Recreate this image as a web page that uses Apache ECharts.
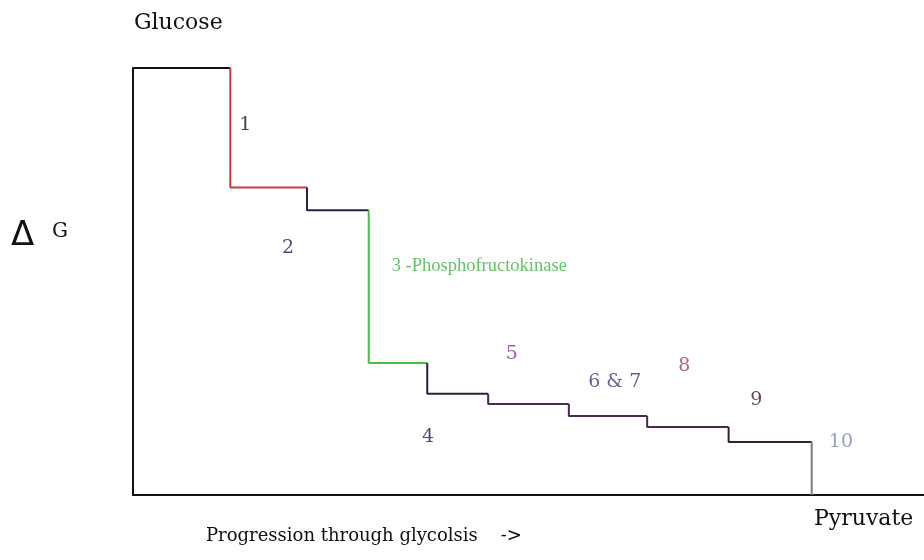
<!DOCTYPE html>
<html>
<head>
<meta charset="utf-8">
<script src="https://cdn.jsdelivr.net/npm/echarts@6/dist/echarts.min.js"></script>
<style>
  html, body { margin: 0; padding: 0; background: #fff; }
  #chart { width: 924px; height: 560px; }
</style>
</head>
<body>
<div id="chart"></div>
<script>
// x position where each step drops (progression units, 0-100)
const stepX = [0, 12.3, 22.0, 29.8, 37.2, 44.9, 55.1, 65.0, 75.3, 85.8]
// free energy level after each step (arbitrary units, 0-100)
const levels = [100, 72, 66.7, 30.9, 23.7, 21.3, 18.5, 15.9, 12.4, 0]
const stepColors = ['#111111', '#c83c3c', '#22224e', '#46c046', '#22223a', '#4a2a52', '#4a2a52', '#4a2a52', '#3a2222', '#7a7a8a']

// step labels
const labelText = ['1', '2', '3 -Phosphofructokinase', '5', '6 & 7', '8', '4', '9', '10']
const labelX = [14.2, 19.6, 32.7, 47.9, 60.9, 69.7, 37.3, 78.8, 89.5]
const labelY = [86.7, 57.8, 53.6, 33.0, 26.5, 30.2, 13.6, 22.2, 12.4]
const labelColors = ['#111111', '#1e1e56', '#3cb43c', '#86368a', '#4e3472', '#a03c6a', '#1e1e56', '#3a1c1c', '#8088aa']
const labelAlign = ['center', 'center', 'left', 'center', 'center', 'center', 'center', 'center', 'center']

const serif = '"DejaVu Serif", "Liberation Serif", serif'
const narrowSerif = '"Liberation Serif", serif'

// each segment: vertical drop at stepX[i], then flat until next drop
const segments = []
segments.push([[stepX[0], levels[0]], [stepX[1], levels[0]]])
for (let i = 1; i < stepX.length; i++) {
  const pts = [[stepX[i], levels[i - 1]], [stepX[i], levels[i]]]
  if (i + 1 < stepX.length) pts.push([stepX[i + 1], levels[i]])
  segments.push(pts)
}

const chart = echarts.init(document.getElementById('chart'))

const series = segments.map((pts, i) => ({
  type: 'line',
  data: pts,
  symbol: 'none',
  animation: false,
  lineStyle: { width: 2, color: stepColors[i] }
}))

series.push({
  type: 'scatter',
  symbolSize: 0,
  animation: false,
  data: labelText.map((t, i) => ({
    value: [labelX[i], labelY[i]],
    label: {
      show: true,
      position: 'inside',
      formatter: t,
      color: labelColors[i],
      align: labelAlign[i],
      fontFamily: t.length > 6 ? narrowSerif : serif,
      fontSize: t.length > 6 ? 18.5 : 19
    }
  }))
})

chart.setOption({
  backgroundColor: '#fff',
  grid: { left: 133, right: 0, top: 68, bottom: 65 },
  xAxis: {
    type: 'value', min: 0, max: 100,
    axisLine: { lineStyle: { color: '#111', width: 2 } },
    axisTick: { show: false }, axisLabel: { show: false }, splitLine: { show: false }
  },
  yAxis: {
    type: 'value', min: 0, max: 100,
    axisLine: { show: true, lineStyle: { color: '#111', width: 2 } },
    axisTick: { show: false }, axisLabel: { show: false }, splitLine: { show: false }
  },
  graphic: [
    { type: 'text', left: 134, top: 12, style: { text: 'Glucose', font: '22px ' + serif, fill: '#111' } },
    { type: 'text', left: 11, top: 219, style: { text: 'Δ', font: '34px "DejaVu Sans", sans-serif', fill: '#111' } },
    { type: 'text', left: 52, top: 222, style: { text: 'G', font: '20px ' + serif, fill: '#111' } },
    { type: 'text', left: 206, top: 527, style: { text: 'Progression through glycolsis    ->', font: '18px ' + serif, fill: '#111' } },
    { type: 'text', left: 814, top: 508, style: { text: 'Pyruvate', font: '22px ' + serif, fill: '#111' } }
  ],
  series: series
})
</script>
</body>
</html>
